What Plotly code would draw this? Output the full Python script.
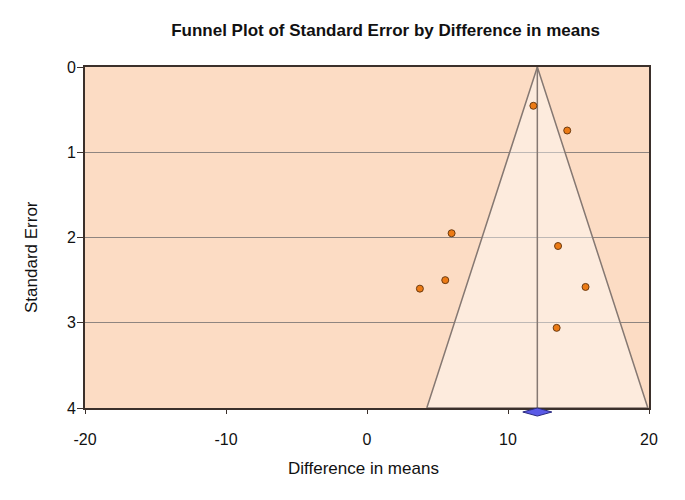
import plotly.graph_objects as go

# Study data (difference in means, standard error)
diff_means = [11.8, 14.2, 6.0, 13.55, 5.55, 3.75, 15.5, 13.45]
std_errors = [0.455, 0.745, 1.95, 2.10, 2.50, 2.60, 2.58, 3.06]

pooled_mean = 12.08
pooled_ci = [11.05, 13.11]
max_se = 4.0

x_ticks = [-20, -10, 0, 10, 20]
x_tick_labels = ["-20", "-10", "0", "10", "20"]
y_ticks = [0, 1, 2, 3, 4]
x_range = [-20, 20]
y_range = [4, 0]

fig = go.Figure()

# funnel (95% limits)
half = 1.96 * max_se
fig.add_trace(go.Scatter(
    x=[pooled_mean - half, pooled_mean, pooled_mean + half, pooled_mean - half],
    y=[max_se, 0, max_se, max_se],
    mode="lines", fill="toself",
    fillcolor="rgba(255,255,255,0.42)",
    line=dict(color="#857872", width=1.5),
    hoverinfo="skip", showlegend=False))

# mean line
fig.add_trace(go.Scatter(
    x=[pooled_mean, pooled_mean], y=[0, max_se], mode="lines",
    line=dict(color="#857872", width=1.5), hoverinfo="skip", showlegend=False))

# study points
fig.add_trace(go.Scatter(
    x=diff_means, y=std_errors, mode="markers",
    marker=dict(size=7, color="#EC7A14", line=dict(color="#6b3a10", width=1)),
    showlegend=False))

# pooled diamond below axis (paper coords derived from data)
def xp(v):
    return (v - x_range[0]) / (x_range[1] - x_range[0])

d_h = 0.0118
d_c = -0.0118
fig.add_shape(
    type="path", xref="paper", yref="paper",
    path=(f"M {xp(pooled_ci[0])} {d_c} L {xp(pooled_mean)} {d_c + d_h} "
          f"L {xp(pooled_ci[1])} {d_c} L {xp(pooled_mean)} {d_c - d_h} Z"),
    fillcolor="#5a5ae6", line=dict(color="#2a2a80", width=1), layer="above")

font = "Liberation Sans, Arial, sans-serif"

fig.update_layout(
    width=677, height=492,
    margin=dict(l=77, r=36, t=59, b=92),
    paper_bgcolor="white", plot_bgcolor="#FCDCC4",
    font=dict(family=font, size=16, color="#111"),
    title=dict(text="<b>Funnel Plot of Standard Error by Difference in means</b>",
               x=0.533, xref="paper", xanchor="center",
               y=1 - 22 / 492, yanchor="middle", font=dict(size=17, color="#111")),
    xaxis=dict(range=x_range, tickvals=x_ticks, ticktext=x_tick_labels,
               showgrid=False, zeroline=False,
               showline=True, mirror=True, linecolor="#3b302b", linewidth=2,
               ticks="outside", ticklen=4, tickcolor="#3b302b",
               ticklabelstandoff=12, tickfont=dict(size=16)),
    yaxis=dict(range=y_range, tickvals=y_ticks, showgrid=True, gridcolor="#8f8580",
               gridwidth=1, zeroline=False,
               showline=True, mirror=True, linecolor="#3b302b", linewidth=2,
               ticks="outside", ticklen=6, tickcolor="#3b302b",
               ticklabelstandoff=-2, tickfont=dict(size=16)),
    annotations=[
        dict(text="Difference in means", xref="paper", yref="paper",
             x=(363.5 - 85) / 564, y=-(468 - 408) / 341, xanchor="center",
             yanchor="middle", showarrow=False, font=dict(size=17)),
        dict(text="Standard Error", xref="paper", yref="paper",
             x=-(85 - 32) / 564, y=1 - (257 - 67) / 341, xanchor="center",
             yanchor="middle", textangle=-90, showarrow=False, font=dict(size=17)),
    ],
)

fig.write_html("out.html")
